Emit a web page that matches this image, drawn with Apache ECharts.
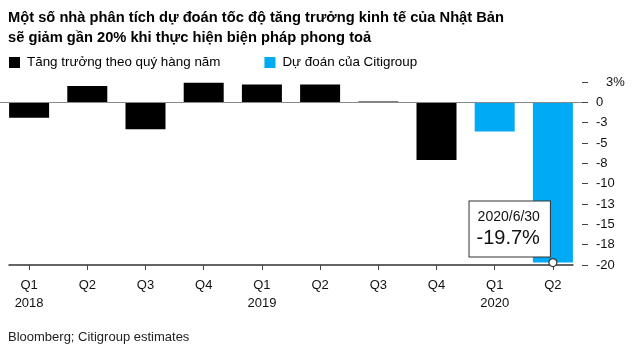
<!DOCTYPE html>
<html>
<head>
<meta charset="utf-8">
<script src="https://cdn.jsdelivr.net/npm/echarts@6/dist/echarts.min.js"></script>
<style>
html,body{margin:0;padding:0;background:#fff;}
#chart{width:640px;height:355px;}
</style>
</head>
<body>
<div id="chart"></div>
<script>
var titleText = 'Một số nhà phân tích dự đoán tốc độ tăng trưởng kinh tế của Nhật Bản\nsẽ giảm gần 20% khi thực hiện biện pháp phong toả';
var sourceText = 'Bloomberg; Citigroup estimates';
var quarters = ['Q1','Q2','Q3','Q4','Q1','Q2','Q3','Q4','Q1','Q2'];
var years = ['2018','','','','2019','','','','2020',''];
var seriesActualName = 'Tăng trưởng theo quý hàng năm';
var seriesForecastName = 'Dự đoán của Citigroup';
var actualValues = [-1.9, 2.0, -3.3, 2.4, 2.2, 2.2, 0.1, -7.1, null, null];
var forecastValues = [null, null, null, null, null, null, null, null, -3.6, -19.7];
var yTickValues = [2.5, 0, -2.5, -5, -7.5, -10, -12.5, -15, -17.5, -20];
var yTickLabels = ['3%', '0', '-3', '-5', '-8', '-10', '-13', '-15', '-18', '-20'];
var annotationDate = '2020/6/30';
var annotationIndex = 9;

var categories = quarters.map(function (q, i) { return years[i] ? q + '\n' + years[i] : q; });
var FONT = '"Liberation Sans", Arial, Helvetica, sans-serif';

var chart = echarts.init(document.getElementById('chart'), null, {renderer: 'canvas'});
var annVal = forecastValues[annotationIndex];

chart.setOption({
  animation: false,
  backgroundColor: '#ffffff',
  textStyle: {fontFamily: FONT},
  title: [{
    text: titleText,
    left: 3, top: 3,
    textStyle: {fontFamily: FONT, fontSize: 14.7, fontWeight: 'bold', color: '#000', lineHeight: 20}
  }, {
    text: sourceText,
    left: 3, top: 326,
    textStyle: {fontFamily: FONT, fontSize: 13, fontWeight: 'normal', color: '#222'}
  }],
  legend: {
    left: 4, top: 51,
    itemWidth: 11, itemHeight: 11, itemGap: 44,
    icon: 'rect',
    textStyle: {fontFamily: FONT, fontSize: 13.4, color: '#000', padding: [0, 0, 0, 2]},
    data: [seriesActualName, seriesForecastName]
  },
  grid: [
    {left: 0, right: 58, top: 82, bottom: 90, containLabel: false},
    {left: 9, right: 67, top: 82, bottom: 90, containLabel: false}
  ],
  xAxis: [{
    type: 'category',
    gridIndex: 0,
    data: categories,
    axisLine: {show: false, onZero: false},
    axisTick: {show: true, alignWithLabel: true, length: 5, lineStyle: {color: '#444'}},
    axisLabel: {fontFamily: FONT, fontSize: 13, color: '#111', lineHeight: 18, margin: 11},
    splitLine: {show: false}
  }, {
    type: 'category',
    gridIndex: 1,
    data: categories,
    axisLine: {show: true, onZero: false, lineStyle: {color: '#333', width: 1.5}},
    axisTick: {show: false},
    axisLabel: {show: false},
    splitLine: {show: false}
  }],
  yAxis: [{
    type: 'value',
    gridIndex: 0,
    position: 'right',
    min: -20, max: 2.5, interval: 2.5,
    axisLine: {show: false},
    axisTick: {show: true, length: 6, lineStyle: {color: '#444'}},
    splitLine: {show: false},
    axisLabel: {
      fontFamily: FONT, fontSize: 13, color: '#111', margin: 14,
      formatter: function (v) {
        var idx = yTickValues.indexOf(v);
        var t = idx >= 0 ? yTickLabels[idx] : '';
        return idx === 0 ? '{p|' + t + '}' : t;
      },
      rich: {p: {fontFamily: FONT, fontSize: 13, color: '#111', padding: [0, 0, 0, 10]}}
    }
  }, {
    type: 'value',
    gridIndex: 1,
    min: -20, max: 2.5, interval: 2.5,
    show: false
  }],
  series: [{
    name: seriesActualName,
    type: 'bar',
    data: actualValues,
    barWidth: 40,
    barGap: '-100%',
    itemStyle: {color: '#000'},
    markLine: {
      silent: true, symbol: 'none',
      label: {show: false},
      lineStyle: {color: '#888', width: 1, type: 'solid'},
      data: [{yAxis: 0}]
    },
    z: 2
  }, {
    name: seriesForecastName,
    type: 'bar',
    data: forecastValues,
    barWidth: 40,
    barGap: '-100%',
    itemStyle: {color: '#00aaf5'},
    z: 3,
    markPoint: {
      silent: true,
      data: [{
        coord: [annotationIndex, annVal],
        symbol: 'rect', symbolSize: 0,
        label: {
          show: true,
          position: [-3, -6],
          align: 'right', verticalAlign: 'bottom',
          formatter: '{a|' + annotationDate + '}\n{b|' + annVal.toFixed(1) + '%}',
          backgroundColor: '#fff',
          borderColor: '#333', borderWidth: 1,
          padding: [7, 10, 6, 7],
          rich: {
            a: {fontFamily: FONT, fontSize: 14, color: '#111', lineHeight: 18},
            b: {fontFamily: FONT, fontSize: 20, color: '#111', lineHeight: 24}
          }
        }
      }, {
        coord: [annotationIndex, annVal],
        symbol: 'circle', symbolSize: 8,
        itemStyle: {color: '#fff', borderColor: '#333', borderWidth: 1.2},
        label: {show: false}
      }]
    }
  }]
});
</script>
</body>
</html>
